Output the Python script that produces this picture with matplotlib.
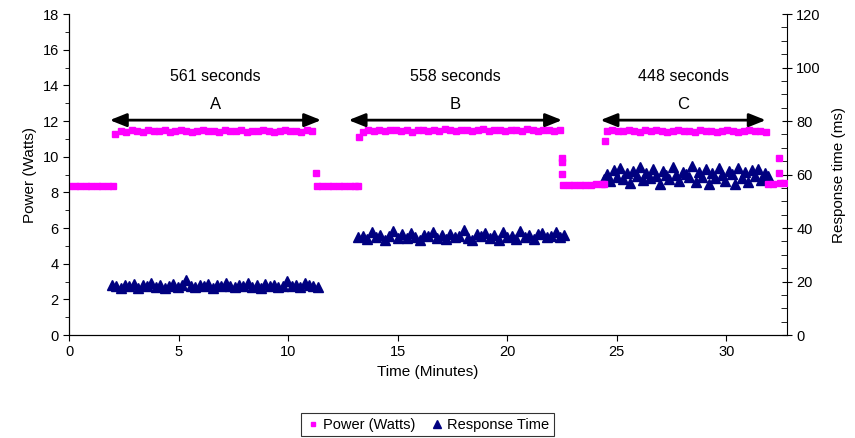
#!/usr/bin/env python3
"""Power draw and response time over a three-phase run (A, B, C)."""

import matplotlib
matplotlib.use('Agg')
import matplotlib.pyplot as plt
from matplotlib.ticker import MultipleLocator

plt.rcParams['font.family'] = ['Liberation Sans', 'DejaVu Sans']

# Power (Watts), one list pair per stretch
power_t_idle0 = [0.0, 0.25, 0.5, 0.75, 1.0, 1.25, 1.5, 1.75, 2.0]
power_w_idle0 = [8.35, 8.35, 8.35, 8.35, 8.35, 8.35, 8.35, 8.35, 8.35]

power_t_a = [2.1, 2.35, 2.6, 2.85, 3.1, 3.35, 3.6, 3.85, 4.1, 4.35, 4.6, 4.85, 5.1,
             5.35, 5.6, 5.85, 6.1, 6.35, 6.6, 6.85, 7.1, 7.35, 7.6, 7.85, 8.1, 8.35,
             8.6, 8.85, 9.1, 9.35, 9.6, 9.85, 10.1, 10.35, 10.6, 10.85, 11.1]
power_w_a = [11.3, 11.45, 11.4, 11.5, 11.45, 11.4, 11.5, 11.45, 11.45, 11.5, 11.4, 11.45, 11.5,
             11.45, 11.4, 11.45, 11.5, 11.45, 11.45, 11.4, 11.5, 11.45, 11.45, 11.5, 11.4, 11.45,
             11.45, 11.5, 11.45, 11.4, 11.45, 11.5, 11.45, 11.45, 11.4, 11.5, 11.45]

power_t_idle1 = [11.25, 11.3, 11.55, 11.8, 12.05, 12.3, 12.55, 12.8, 13.05, 13.2]
power_w_idle1 = [9.1, 8.35, 8.35, 8.35, 8.35, 8.35, 8.35, 8.35, 8.35, 8.35]

power_t_b = [13.25, 13.4, 13.65, 13.9, 14.15, 14.4, 14.65, 14.9, 15.15, 15.4, 15.65, 15.9, 16.15,
             16.4, 16.65, 16.9, 17.15, 17.4, 17.65, 17.9, 18.15, 18.4, 18.65, 18.9, 19.15, 19.4,
             19.65, 19.9, 20.15, 20.4, 20.65, 20.9, 21.15, 21.4, 21.65, 21.9, 22.15, 22.4]
power_w_b = [11.1, 11.4, 11.5, 11.45, 11.5, 11.45, 11.5, 11.5, 11.45, 11.5, 11.4, 11.5, 11.5,
             11.45, 11.5, 11.45, 11.55, 11.5, 11.45, 11.5, 11.5, 11.45, 11.5, 11.55, 11.45, 11.5,
             11.5, 11.45, 11.5, 11.5, 11.45, 11.55, 11.5, 11.45, 11.5, 11.5, 11.45, 11.5]

power_t_idle2 = [22.48, 22.48, 22.48, 22.55, 22.8, 23.05, 23.3, 23.55, 23.8, 24.05, 24.3, 24.4]
power_w_idle2 = [9.95, 9.7, 9.05, 8.4, 8.4, 8.4, 8.4, 8.4, 8.4, 8.45, 8.45, 8.45]

power_t_c = [24.45, 24.55, 24.8, 25.05, 25.3, 25.55, 25.8, 26.05, 26.3, 26.55, 26.8, 27.05,
             27.3, 27.55, 27.8, 28.05, 28.3, 28.55, 28.8, 29.05, 29.3, 29.55, 29.8, 30.05,
             30.3, 30.55, 30.8, 31.05, 31.3, 31.55, 31.8]
power_w_c = [10.9, 11.45, 11.5, 11.45, 11.45, 11.5, 11.45, 11.4, 11.5, 11.45, 11.5, 11.45,
             11.4, 11.45, 11.5, 11.45, 11.45, 11.4, 11.5, 11.45, 11.45, 11.4, 11.45, 11.5,
             11.45, 11.4, 11.45, 11.5, 11.45, 11.45, 11.4]

power_t_idle3 = [31.9, 32.15, 32.4, 32.4, 32.45, 32.65]
power_w_idle3 = [8.45, 8.45, 9.95, 9.1, 8.5, 8.5]

# Response time (ms)
resp_t_a = [1.95, 2.15, 2.35, 2.55, 2.75, 2.95, 3.15, 3.35, 3.55, 3.75, 3.95, 4.15, 4.35, 4.55,
            4.75, 4.95, 5.15, 5.35, 5.55, 5.75, 5.95, 6.15, 6.35, 6.55, 6.75, 6.95, 7.15, 7.35,
            7.55, 7.75, 7.95, 8.15, 8.35, 8.55, 8.75, 8.95, 9.15, 9.35, 9.55, 9.75, 9.95, 10.15,
            10.35, 10.55, 10.75, 10.95, 11.15, 11.35]
resp_ms_a = [18.6, 18.2, 17.6, 18.9, 18.4, 19.1, 17.5, 18.7, 18.3, 19.3,
             18.0, 18.8, 17.7, 18.5, 19.2, 18.1, 18.6, 20.4, 18.3, 17.8,
             18.9, 18.4, 19.0, 17.6, 18.7, 18.2, 19.4, 18.5, 17.9, 18.8,
             18.3, 19.6, 18.1, 18.6, 17.7, 19.0, 18.4, 18.9, 17.8, 18.5,
             20.2, 18.3, 18.8, 17.9, 19.3, 18.6, 18.2, 18.0]

resp_t_b = [13.2, 13.4, 13.6, 13.8, 14.0, 14.2, 14.4, 14.6, 14.8, 15.0, 15.2, 15.4, 15.6, 15.8,
            16.0, 16.2, 16.4, 16.6, 16.8, 17.0, 17.2, 17.4, 17.6, 17.8, 18.0, 18.2, 18.4, 18.6,
            18.8, 19.0, 19.2, 19.4, 19.6, 19.8, 20.0, 20.2, 20.4, 20.6, 20.8, 21.0, 21.2, 21.4,
            21.6, 21.8, 22.0, 22.2, 22.4, 22.6]
resp_ms_b = [36.5, 37.2, 36.0, 38.4, 36.8, 37.5, 35.6, 37.0, 38.9, 36.3,
             37.6, 36.1, 38.2, 36.7, 35.5, 37.3, 36.9, 38.6, 36.2, 37.4,
             35.8, 37.9, 36.6, 37.1, 39.2, 36.4, 35.7, 37.6, 36.9, 38.1,
             36.3, 37.4, 35.6, 38.5, 36.8, 37.2, 36.0, 38.8, 36.6, 37.3,
             35.9, 37.7, 38.3, 36.5, 37.0, 38.6, 36.7, 37.5]

resp_t_c = [24.4, 24.55, 24.7, 24.85, 25.0, 25.15, 25.3, 25.45, 25.6, 25.75, 25.9, 26.05,
            26.2, 26.35, 26.5, 26.65, 26.8, 26.95, 27.1, 27.25, 27.4, 27.55, 27.7, 27.85,
            28.0, 28.15, 28.3, 28.45, 28.6, 28.75, 28.9, 29.05, 29.2, 29.35, 29.5, 29.65,
            29.8, 29.95, 30.1, 30.25, 30.4, 30.55, 30.7, 30.85, 31.0, 31.15, 31.3, 31.45,
            31.6, 31.75, 31.9]
resp_ms_c = [58.5, 60.2, 57.4, 61.8, 59.0, 62.5, 58.2, 60.6, 56.8, 61.2,
             59.6, 63.0, 57.9, 60.4, 58.8, 62.2, 59.3, 56.5, 61.5, 60.0,
             58.4, 62.8, 59.7, 57.6, 61.0, 60.3, 58.9, 63.2, 57.2, 60.8,
             59.2, 61.9, 56.6, 60.5, 58.6, 62.4, 59.8, 57.5, 61.4, 60.1,
             56.4, 62.6, 58.7, 60.9, 57.3, 61.6, 59.4, 62.0, 58.1, 60.7,
             59.5]

# Phase annotations: label, duration text, start / end minute
phase_names = ["A", "B", "C"]
phase_durations = ["561 seconds", "558 seconds", "448 seconds"]
phase_start = [1.85, 12.75, 24.25]
phase_end = [11.5, 22.5, 31.8]

power_t = power_t_idle0 + power_t_a + power_t_idle1 + power_t_b + power_t_idle2 + power_t_c + power_t_idle3
power_w = power_w_idle0 + power_w_a + power_w_idle1 + power_w_b + power_w_idle2 + power_w_c + power_w_idle3
resp_t = resp_t_a + resp_t_b + resp_t_c
resp_ms = resp_ms_a + resp_ms_b + resp_ms_c

fig = plt.figure(figsize=(8.55, 4.38), dpi=100)
ax = fig.add_axes([0.081, 0.235, 0.839, 0.733])
ax2 = ax.twinx()

ax2.plot(resp_t, resp_ms, linestyle="none", marker="^", color="#000080",
         markersize=6.8, label="Response Time")
ax.plot(power_t, power_w, linestyle="none", marker="s", color="#FF00FF",
        markersize=4.3, label="Power (Watts)")

ax.set_zorder(ax2.get_zorder() + 1)
ax.patch.set_visible(False)

ax.set_xlim(0, 32.75)
ax.set_ylim(0, 18)
ax2.set_ylim(0, 120)
ax.xaxis.set_major_locator(MultipleLocator(5))
ax.yaxis.set_major_locator(MultipleLocator(2))
ax.yaxis.set_minor_locator(MultipleLocator(1))
ax2.yaxis.set_major_locator(MultipleLocator(20))
ax2.yaxis.set_minor_locator(MultipleLocator(5))

for a in (ax, ax2):
    a.spines["top"].set_visible(False)
ax.spines["right"].set_visible(False)
ax.tick_params(axis="both", which="major", direction="out", length=4, labelsize=10.5)
ax.tick_params(axis="y", which="minor", direction="out", length=3)
ax2.tick_params(axis="y", which="major", direction="inout", length=7, labelsize=10.5)
ax2.tick_params(axis="y", which="minor", direction="in", length=4)

ax.set_xlabel("Time (Minutes)", fontsize=11)
ax.set_ylabel("Power (Watts)", fontsize=11)
ax2.set_ylabel("Response time (ms)", fontsize=11, labelpad=8)

for name, dur, t0, t1 in zip(phase_names, phase_durations, phase_start, phase_end):
    ax.annotate("", xy=(t0, 12.05), xytext=(t1, 12.05),
                arrowprops=dict(arrowstyle="<|-|>,head_length=1.0,head_width=0.4",
                                color="black", lw=2.0, shrinkA=0, shrinkB=0))
    mid = (t0 + t1) / 2
    ax.text(mid, 14.5, dur, ha="center", va="center", fontsize=11.5)
    ax.text(mid, 12.9, name, ha="center", va="center", fontsize=12)

handles = [ax.get_lines()[0], ax2.get_lines()[0]]
leg = fig.legend(handles, [h.get_label() for h in handles], loc="center",
                 bbox_to_anchor=(0.5, 0.03), ncol=2, fontsize=10.5, frameon=True,
                 fancybox=False, edgecolor="black", borderpad=0.3, handletextpad=0.2,
                 columnspacing=1.0, handlelength=1.0, markerscale=0.75)
leg.get_frame().set_linewidth(0.8)

plt.savefig("out.png", dpi=100)
